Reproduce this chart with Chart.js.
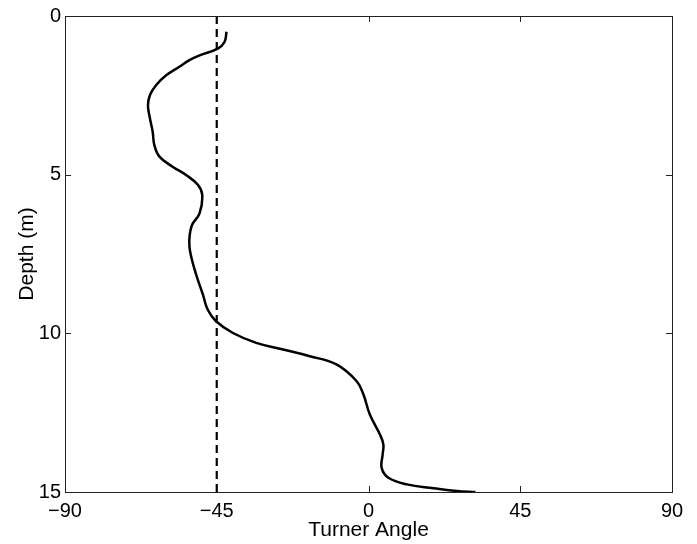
<!DOCTYPE html>
<html><head><meta charset="utf-8">
<script src="https://cdn.jsdelivr.net/npm/chart.js@4/dist/chart.umd.min.js"></script>
<style>html,body{margin:0;padding:0;background:#fff;}#wrap{width:697px;height:544px;}</style>
</head><body><div id="wrap"><canvas id="c" width="697" height="544"></canvas></div>
<script>
// Turner angle profile (deg) vs depth (m)
const turnerAngle = [-42.1,-42.7,-44.7,-50.1,-53.1,-56.1,-60.0,-63.0,-64.8,-65.4,-64.8,-64.0,-63.5,-62.0,-58.1,-54.1,-50.6,-49.3,-50.1,-52.3,-53.1,-52.9,-51.1,-49.1,-47.7,-45.2,-40.2,-33.3,-25.3,-17.4,-9.5,-3.5,-1.5,0.4,3.4,4.4,4.2,3.9,5.9,11.4,19.3,26.2,31.7];
const depth =       [0.50,0.82,1.03,1.24,1.39,1.60,1.87,2.18,2.49,2.81,3.23,3.65,4.07,4.43,4.75,5.01,5.32,5.64,6.22,6.58,7.00,7.42,8.15,8.78,9.25,9.62,9.99,10.30,10.51,10.72,10.98,11.51,11.93,12.56,13.19,13.50,13.81,14.24,14.55,14.76,14.88,14.97,15.0];
const refAngle = [-45,-45];
const refDepth = [0,15];
const xTicks = [-90,-45,0,45,90];
const yTicks = [0,5,10,15];

const profile = turnerAngle.map((v,i)=>({x:v,y:depth[i]}));
const refLine = refAngle.map((v,i)=>({x:v,y:refDepth[i]}));

const frameTicks = {
  id:'frameTicks',
  afterDraw(chart){
    const {ctx, chartArea:a, scales:{x,y}} = chart;
    ctx.save();
    ctx.strokeStyle='#222';ctx.lineWidth=1;
    ctx.strokeRect(Math.round(a.left)+0.5,Math.round(a.top)+0.5,Math.round(a.right-a.left),Math.round(a.bottom-a.top));
    const L=6;
    ctx.beginPath();
    xTicks.forEach(t=>{const p=Math.round(x.getPixelForValue(t))+0.5;
      ctx.moveTo(p,a.bottom);ctx.lineTo(p,a.bottom-L);ctx.moveTo(p,a.top);ctx.lineTo(p,a.top+L);});
    yTicks.forEach(t=>{const p=Math.round(y.getPixelForValue(t))+0.5;
      ctx.moveTo(a.left,p);ctx.lineTo(a.left+L,p);ctx.moveTo(a.right,p);ctx.lineTo(a.right-L,p);});
    ctx.stroke();
    ctx.restore();
  }
};

const FAM = 'Liberation Sans, Arial, sans-serif';
new Chart(document.getElementById('c'),{
  type:'scatter',
  data:{datasets:[
    {data:profile,showLine:true,borderColor:'#000',borderWidth:2.5,pointRadius:0,tension:0.4,fill:false},
    {data:refLine,showLine:true,borderColor:'#000',borderWidth:2.2,borderDash:[8,5],pointRadius:0,fill:false}
  ]},
  options:{
    responsive:false,animation:false,
    layout:{padding:{top:15,right:25,left:0,bottom:0}},
    plugins:{legend:{display:false},tooltip:{enabled:false}},
    scales:{
      x:{type:'linear',min:-90,max:90,
        afterBuildTicks:s=>{s.ticks=xTicks.map(v=>({value:v}));},
        afterFit:s=>{s.height=52;},
        grid:{display:false,drawTicks:false},border:{display:false},
        ticks:{padding:7,color:'#000',font:{family:FAM,size:20},
          callback:v=>String(v).replace('-','\u2212')},
        title:{display:true,text:'Turner Angle',color:'#000',font:{family:FAM,size:21},padding:{top:0,bottom:1}}
      },
      y:{type:'linear',min:0,max:15,reverse:true,
        afterBuildTicks:s=>{s.ticks=yTicks.map(v=>({value:v}));},
        afterFit:s=>{s.width=65;},
        grid:{display:false,drawTicks:false},border:{display:false},
        ticks:{padding:4,color:'#000',font:{family:FAM,size:20}},
        title:{display:true,text:'Depth (m)',color:'#000',font:{family:FAM,size:21},padding:{top:15,bottom:0}}
      }
    }
  },
  plugins:[frameTicks]
});
</script></body></html>
